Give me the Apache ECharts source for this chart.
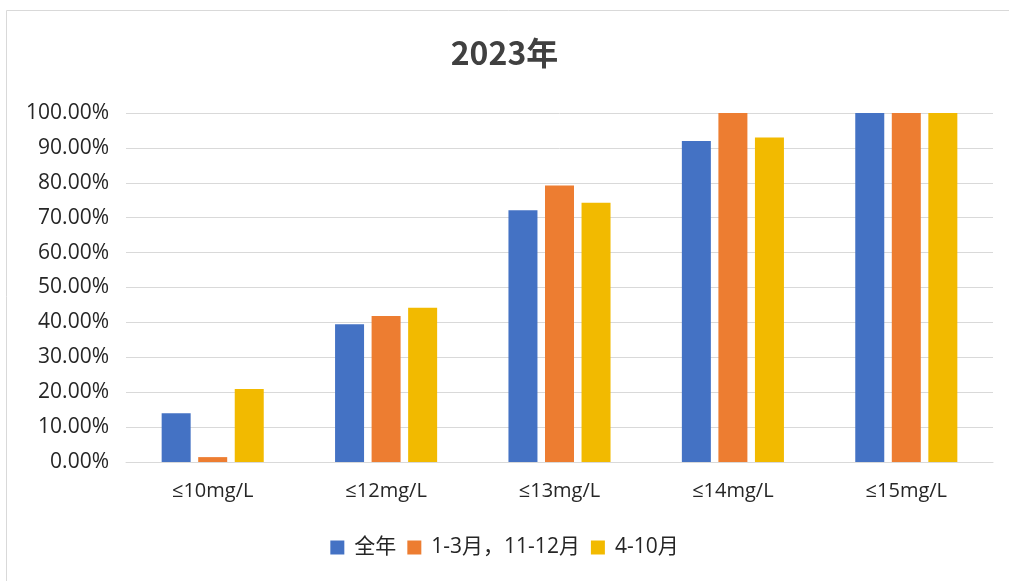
<!DOCTYPE html>
<html><head><meta charset="utf-8">
<style>html,body{margin:0;padding:0;background:#fff}#c{width:1009px;height:581px}</style>
<script src="https://cdn.jsdelivr.net/npm/echarts@6/dist/echarts.min.js"></script>
</head><body><div id="c"></div>
<script>
const categories = ['≤10mg/L','≤12mg/L','≤13mg/L','≤14mg/L','≤15mg/L'];
const seriesNames = ['全年','1-3月，11-12月','4-10月'];
const quanNian = [14.0, 39.5, 72.1, 92.0, 100];
const dongJi = [1.4, 41.8, 79.2, 100, 100];
const xiaJi = [20.9, 44.2, 74.3, 93.0, 100];
const colors = ['#4472C4','#ED7D31','#F2BA00'];
const font = '"Open Sans","Noto Sans CJK SC",sans-serif';
const chart = echarts.init(document.getElementById('c'));
const vals = [quanNian, dongJi, xiaJi];
chart.setOption({
  animation:false,
  title:{text:'2023年',left:'center',top:32,textStyle:{fontFamily:'"Noto Sans CJK SC",sans-serif',fontSize:32,fontWeight:'bold',color:'#404040'}},
  graphic:[{type:'rect',shape:{x:6.5,y:10.5,width:1100,height:700},style:{fill:'none',stroke:'#d9d9d9',lineWidth:1},silent:true,z:-1}],
  legend:{bottom:18,left:'center',itemWidth:14,itemHeight:14,itemGap:11,icon:'rect',
    textStyle:{fontFamily:font,fontSize:21,color:'#262626',padding:[0,0,0,5]},data:seriesNames},
  grid:{left:126,right:16,top:113,bottom:119},
  xAxis:{type:'category',data:categories,axisLine:{lineStyle:{color:'#d9d9d9',width:1}},axisTick:{show:false},
    axisLabel:{fontFamily:font,fontSize:20,color:'#262626',margin:19}},
  yAxis:{type:'value',min:0,max:100,interval:10,axisLine:{show:false},axisTick:{show:false},
    splitLine:{lineStyle:{color:'#d9d9d9',width:1}},
    axisLabel:{fontFamily:font,fontSize:21,color:'#262626',margin:17,formatter:v=>v.toFixed(2)+'%'}},
  series: seriesNames.map((n,i)=>({name:n,type:'bar',data:vals[i],barWidth:29,barGap:'26%',itemStyle:{color:colors[i]}}))
});
</script></body></html>
